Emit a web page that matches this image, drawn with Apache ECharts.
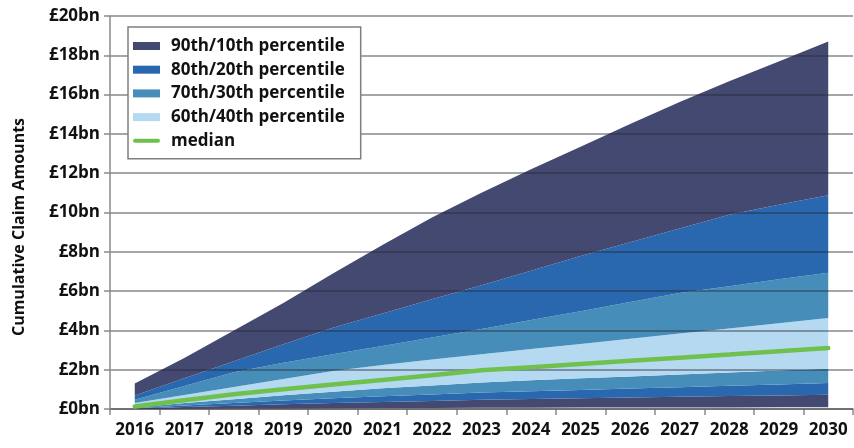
<!DOCTYPE html>
<html>
<head>
<meta charset="utf-8">
<script src="https://cdn.jsdelivr.net/npm/echarts@6/dist/echarts.min.js"></script>
<style>
html, body { margin: 0; padding: 0; background: #fff; }
#chart { width: 854px; height: 448px; }
</style>
</head>
<body>
<div id="chart"></div>
<script>
var years = ['2016', '2017', '2018', '2019', '2020', '2021', '2022', '2023',
    '2024', '2025', '2026', '2027', '2028', '2029', '2030'];

// percentile curves, £bn
var p10 = [0.00, 0.01, 0.02, 0.03, 0.04, 0.05, 0.05, 0.06, 0.06, 0.07, 0.07, 0.08, 0.08, 0.09, 0.09];
var p20 = [0.02, 0.10, 0.17, 0.24, 0.30, 0.36, 0.41, 0.47, 0.51, 0.55, 0.59, 0.62, 0.66, 0.69, 0.72];
var p30 = [0.04, 0.18, 0.30, 0.43, 0.55, 0.65, 0.74, 0.84, 0.90, 0.97, 1.04, 1.11, 1.18, 1.25, 1.32];
var p40 = [0.07, 0.30, 0.50, 0.70, 0.88, 1.05, 1.20, 1.35, 1.46, 1.56, 1.66, 1.76, 1.86, 1.96, 2.05];
var median = [0.13, 0.45, 0.75, 1.00, 1.25, 1.48, 1.72, 1.97, 2.13, 2.29, 2.45, 2.61, 2.77, 2.94, 3.10];
var p60 = [0.30, 0.71, 1.12, 1.53, 1.94, 2.24, 2.52, 2.79, 3.05, 3.31, 3.57, 3.84, 4.10, 4.37, 4.63];
var p70 = [0.47, 1.17, 1.87, 2.35, 2.78, 3.21, 3.64, 4.07, 4.53, 4.98, 5.44, 5.90, 6.25, 6.60, 6.94];
var p80 = [0.69, 1.56, 2.43, 3.30, 4.14, 4.86, 5.58, 6.30, 7.04, 7.78, 8.49, 9.19, 9.89, 10.40, 10.88];
var p90 = [1.30, 2.60, 4.00, 5.40, 6.90, 8.35, 9.75, 11.00, 12.20, 13.35, 14.50, 15.62, 16.68, 17.68, 18.70];

var yTicks = [0, 2, 4, 6, 8, 10, 12, 14, 16, 18, 20];

var bandNames = ['90th/10th percentile', '80th/20th percentile', '70th/30th percentile', '60th/40th percentile'];
var navy = '#444972';
var blue = '#2967ae';
var mid = '#468eb9';
var light = '#b5d9f1';
var green = '#70c04e';

function diff(a, b) {
    return a.map(function (v, i) { return +(v - b[i]).toFixed(3); });
}

function band(name, data, color) {
    return {
        name: name,
        type: 'line',
        stack: 'fan',
        data: data,
        symbol: 'none',
        silent: true,
        lineStyle: { width: 0 },
        itemStyle: { color: color },
        areaStyle: { color: color, opacity: 1 },
        z: 2
    };
}

var myChart = echarts.init(document.getElementById('chart'));

var option = {
    animation: false,
    backgroundColor: '#fff',
    grid: { left: 110, right: 1, top: 16, bottom: 39 },
    legend: {
        orient: 'vertical',
        left: 128,
        top: 27,
        padding: [9, 16, 8, 5],
        backgroundColor: '#fff',
        borderColor: '#7f7f7f',
        borderWidth: 1.5,
        itemWidth: 27,
        itemHeight: 8,
        itemGap: 3.7,
        z: 10,
        textStyle: {
            fontFamily: 'Open Sans',
            fontWeight: 'bold',
            fontSize: 17,
            lineHeight: 20,
            color: '#111',
            padding: [0, 0, 0, 6]
        },
        data: [
            { name: bandNames[0], icon: 'rect' },
            { name: bandNames[1], icon: 'rect' },
            { name: bandNames[2], icon: 'rect' },
            { name: bandNames[3], icon: 'rect' },
            { name: 'median', icon: 'path://M2,0 L25,0 A2,2 0 0 1 25,4 L2,4 A2,2 0 0 1 2,0 Z' }
        ]
    },
    graphic: [{
        type: 'text',
        x: 19,
        y: 227,
        rotation: Math.PI / 2,
        style: {
            text: 'Cumulative Claim Amounts',
            fontFamily: 'Open Sans',
            fontWeight: 'bold',
            fontSize: 16,
            fill: '#111',
            textAlign: 'center',
            textVerticalAlign: 'middle'
        }
    }],
    xAxis: {
        type: 'category',
        data: years,
        boundaryGap: true,
        axisLine: { lineStyle: { color: '#8a8a8a', width: 1.5 } },
        axisTick: { show: true, length: 6, interval: 0, lineStyle: { color: '#8a8a8a', width: 1.5 } },
        axisLabel: {
            interval: 0,
            margin: 13,
            fontFamily: 'Open Sans',
            fontWeight: 'bold',
            fontSize: 17,
            color: '#111'
        },
        splitLine: { show: false }
    },
    yAxis: {
        type: 'value',
        min: yTicks[0],
        max: yTicks[yTicks.length - 1],
        interval: 2,
        z: 3,
        axisLine: { show: true, lineStyle: { color: '#8a8a8a', width: 1.5 } },
        axisTick: { show: true, length: 6, lineStyle: { color: '#8a8a8a', width: 1.5 } },
        axisLabel: {
            margin: 10,
            fontFamily: 'Open Sans',
            fontWeight: 'bold',
            fontSize: 17,
            color: '#111',
            formatter: '£{value}bn'
        },
        splitLine: { lineStyle: { color: 'rgba(40,40,50,0.55)', width: 1.5 } }
    },
    series: [
        {
            name: 'base',
            type: 'line',
            stack: 'fan',
            data: p10,
            symbol: 'none',
            silent: true,
            lineStyle: { width: 0 },
            areaStyle: { color: 'rgba(0,0,0,0)' }
        },
        band(bandNames[0], diff(p20, p10), navy),
        band(bandNames[1], diff(p30, p20), blue),
        band(bandNames[2], diff(p40, p30), mid),
        band(bandNames[3], diff(p60, p40), light),
        band(bandNames[2], diff(p70, p60), mid),
        band(bandNames[1], diff(p80, p70), blue),
        band(bandNames[0], diff(p90, p80), navy),
        {
            name: 'median',
            type: 'line',
            data: median,
            symbol: 'none',
            silent: true,
            itemStyle: { color: green },
            lineStyle: { color: green, width: 4.5, cap: 'round' },
            z: 5
        }
    ]
};

myChart.setOption(option);
</script>
</body>
</html>
